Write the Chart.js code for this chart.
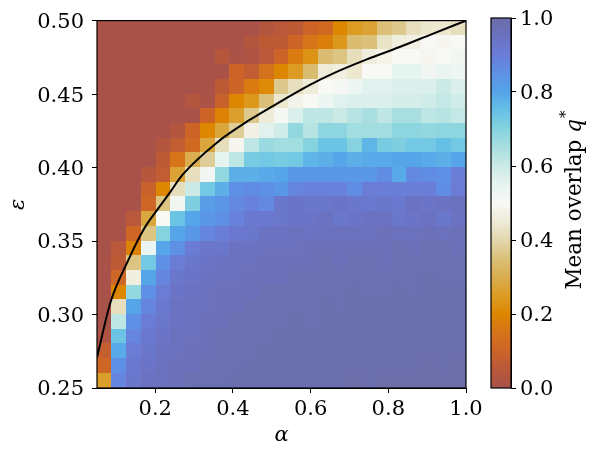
<!DOCTYPE html>
<html>
<head>
<meta charset="utf-8">
<script src="https://cdn.jsdelivr.net/npm/chart.js@4.4.1/dist/chart.umd.min.js"></script>
<style>
  html, body { margin: 0; padding: 0; background: #fff; }
  #wrap { position: relative; width: 599px; height: 457px; }
  #main { position: absolute; left: 0; top: 0; }
  #cbar { position: absolute; left: 480px; top: 0; }
</style>
</head>
<body>
<div id="wrap">
  <canvas id="main" width="599" height="457"></canvas>
  <canvas id="cbar" width="119" height="457"></canvas>
</div>
<script>
// grid edges of the heatmap cells
const alphaEdges = [0.05, 0.088, 0.126, 0.164, 0.202, 0.24, 0.278, 0.316, 0.354, 0.392, 0.43, 0.468, 0.506,
                    0.544, 0.582, 0.62, 0.658, 0.696, 0.734, 0.772, 0.81, 0.848, 0.886, 0.924, 0.962, 1.0];
const epsEdges = [0.25, 0.26, 0.27, 0.28, 0.29, 0.30, 0.31, 0.32, 0.33, 0.34, 0.35, 0.36, 0.37,
                  0.38, 0.39, 0.40, 0.41, 0.42, 0.43, 0.44, 0.45, 0.46, 0.47, 0.48, 0.49, 0.50];

// mean overlap q*, top row first (eps 0.49-0.50 down to 0.25-0.26), columns left to right in alpha
const overlapRows = [
  [0,0,0,0,0,0,0,0,0,0,0,0.03,0.05,0.06,0.10,0.12,0.20,0.25,0.27,0.35,0.37,0.42,0.44,0.44,0.42],
  [0,0,0,0,0,0,0,0,0,0,0.03,0.06,0.06,0.10,0.15,0.18,0.24,0.34,0.35,0.43,0.46,0.47,0.50,0.49,0.50],
  [0,0,0,0,0,0,0,0,0.04,0.01,0.02,0.05,0.10,0.17,0.23,0.34,0.36,0.42,0.46,0.48,0.50,0.50,0.49,0.50,0.52],
  [0,0,0,0,0,0,0,0,0,0.10,0.07,0.14,0.20,0.25,0.34,0.45,0.46,0.44,0.50,0.50,0.55,0.55,0.52,0.54,0.53],
  [0,0,0,0,0,0,0,0,0.06,0.10,0.17,0.21,0.37,0.42,0.45,0.50,0.51,0.53,0.56,0.56,0.57,0.57,0.57,0.60,0.57],
  [0,0,0,0,0,0,0.03,0.01,0.09,0.20,0.24,0.35,0.44,0.48,0.50,0.53,0.56,0.57,0.57,0.57,0.58,0.58,0.59,0.61,0.59],
  [0,0,0,0,0,0,0,0.10,0.19,0.26,0.37,0.45,0.51,0.57,0.62,0.62,0.60,0.63,0.65,0.62,0.65,0.65,0.62,0.63,0.61],
  [0,0,0,0,0,0.03,0.10,0.20,0.28,0.38,0.47,0.56,0.59,0.68,0.63,0.69,0.69,0.66,0.66,0.66,0.69,0.69,0.68,0.69,0.69],
  [0,0,0,0,0.03,0.07,0.12,0.28,0.42,0.49,0.62,0.67,0.66,0.66,0.70,0.74,0.74,0.70,0.77,0.72,0.71,0.73,0.73,0.75,0.73],
  [0,0,0,0,0.06,0.15,0.30,0.38,0.55,0.62,0.72,0.73,0.72,0.73,0.77,0.78,0.80,0.78,0.79,0.79,0.80,0.80,0.79,0.78,0.80],
  [0,0,0,0.04,0.07,0.27,0.42,0.52,0.68,0.78,0.78,0.79,0.80,0.83,0.83,0.83,0.83,0.83,0.83,0.86,0.79,0.87,0.86,0.85,0.90],
  [0,0,0,0.09,0.20,0.42,0.60,0.73,0.78,0.85,0.86,0.85,0.83,0.88,0.89,0.89,0.89,0.86,0.91,0.90,0.90,0.90,0.90,0.86,0.91],
  [0,0,0,0.11,0.36,0.52,0.71,0.82,0.84,0.87,0.89,0.87,0.93,0.94,0.93,0.93,0.94,0.93,0.92,0.93,0.92,0.95,0.94,0.95,0.96],
  [0,0,0.05,0.28,0.50,0.74,0.80,0.83,0.85,0.89,0.92,0.92,0.93,0.94,0.94,0.95,0.93,0.94,0.95,0.95,0.93,0.94,0.95,0.93,0.95],
  [0,0,0.11,0.36,0.70,0.80,0.83,0.88,0.90,0.92,0.93,0.95,0.95,0.96,0.95,0.96,0.96,0.96,0.96,0.97,0.96,0.96,0.97,0.96,0.97],
  [0,0.05,0.19,0.54,0.80,0.85,0.91,0.93,0.93,0.95,0.95,0.96,0.96,0.96,0.97,0.97,0.97,0.97,0.97,0.97,0.98,0.97,0.98,0.98,0.97],
  [0,0.06,0.36,0.73,0.85,0.91,0.93,0.94,0.95,0.96,0.96,0.97,0.97,0.97,0.97,0.98,0.97,0.98,0.98,0.97,0.98,0.98,0.98,0.98,0.98],
  [0,0.11,0.46,0.80,0.88,0.93,0.94,0.95,0.96,0.96,0.97,0.97,0.97,0.98,0.98,0.98,0.98,0.98,0.98,0.98,0.98,0.98,0.99,0.98,0.98],
  [0,0.20,0.68,0.85,0.91,0.94,0.95,0.96,0.97,0.97,0.97,0.98,0.98,0.98,0.98,0.98,0.98,0.99,0.98,0.98,0.99,0.98,0.99,0.99,0.99],
  [0,0.42,0.80,0.88,0.92,0.95,0.96,0.96,0.97,0.97,0.98,0.98,0.98,0.98,0.98,0.99,0.98,0.99,0.99,0.99,0.99,0.99,0.99,0.99,0.99],
  [0,0.62,0.85,0.91,0.93,0.95,0.96,0.97,0.97,0.98,0.98,0.98,0.98,0.99,0.98,0.99,0.99,0.99,0.99,0.99,0.99,0.99,0.99,0.99,0.99],
  [0.02,0.74,0.88,0.92,0.94,0.96,0.96,0.97,0.98,0.98,0.98,0.98,0.99,0.99,0.99,0.99,0.99,0.99,0.99,0.99,0.99,0.99,0.99,0.99,0.99],
  [0.08,0.79,0.91,0.93,0.95,0.96,0.97,0.97,0.98,0.98,0.98,0.99,0.99,0.99,0.99,0.99,0.99,0.99,0.99,0.99,0.99,0.99,0.99,0.99,0.99],
  [0.11,0.85,0.92,0.94,0.96,0.97,0.97,0.98,0.98,0.98,0.99,0.99,0.99,0.99,0.99,0.99,0.99,0.99,0.99,0.99,0.99,0.99,1.00,0.99,1.00],
  [0.26,0.88,0.93,0.95,0.96,0.97,0.98,0.98,0.98,0.99,0.99,0.99,0.99,0.99,0.99,0.99,0.99,1.00,0.99,1.00,1.00,1.00,1.00,1.00,1.00]
];

// black boundary curve
const boundaryAlpha = [0.05, 0.085, 0.13, 0.173, 0.203, 0.237, 0.271, 0.357, 0.443, 0.529, 0.597, 0.657, 0.743, 0.829, 0.914, 1.0];
const boundaryEps = [0.271, 0.3085, 0.3367, 0.3592, 0.3705, 0.3828, 0.3953, 0.4166, 0.4324, 0.4459, 0.4561, 0.4639, 0.4734, 0.482, 0.491, 0.5];

const alphaTicks = [0.2, 0.4, 0.6, 0.8, 1.0];
const epsTicks = [0.25, 0.30, 0.35, 0.40, 0.45, 0.50];
const cbarTicks = [0, 0.2, 0.4, 0.6, 0.8, 1.0];

// colormap stops
const cmapPos = [0, 0.05, 0.1, 0.15, 0.2, 0.25, 0.3, 0.35, 0.4, 0.45, 0.5, 0.55, 0.6, 0.65, 0.7, 0.75, 0.8, 0.85, 0.9, 0.95, 1.0];
const cmapHex = ['#a8524a', '#b9583a', '#cc6428', '#d6741a', '#dd8600', '#dc9c24', '#d9ad50', '#dac078', '#e2d6ac',
                 '#eeebd8', '#f8f8f5', '#e6f4f0', '#cbeae6', '#a9dfe0', '#86d3df', '#66c0e6', '#55a5e8', '#5e90e6',
                 '#6a7ed8', '#6b72c2', '#6b6ea8'];

const FONT = 'DejaVu Serif';

function hexRgb(h) {
    return [parseInt(h.slice(1, 3), 16), parseInt(h.slice(3, 5), 16), parseInt(h.slice(5, 7), 16)];
}

function overlapColor(q) {
    let k = 0;
    while (k < cmapPos.length - 2 && q > cmapPos[k + 1]) k++;
    const t = Math.min(1, Math.max(0, (q - cmapPos[k]) / (cmapPos[k + 1] - cmapPos[k])));
    const a = hexRgb(cmapHex[k]), b = hexRgb(cmapHex[k + 1]);
    const c = a.map((v, i) => Math.round(v + (b[i] - v) * t));
    return `rgb(${c[0]},${c[1]},${c[2]})`;
}

// paints the cells under the curve using the chart's own scales
const heatmapPlugin = {
    id: 'heatmap',
    beforeDatasetsDraw(chart) {
        const { ctx, chartArea, scales: { x, y } } = chart;
        ctx.save();
        ctx.beginPath();
        ctx.rect(chartArea.left, chartArea.top, chartArea.width, chartArea.height);
        ctx.clip();
        const n = overlapRows.length;
        overlapRows.forEach((row, r) => {
            const j = n - 1 - r;
            const yTop = Math.floor(y.getPixelForValue(epsEdges[j + 1]));
            const yBot = Math.ceil(y.getPixelForValue(epsEdges[j]));
            row.forEach((q, i) => {
                const xl = Math.floor(x.getPixelForValue(alphaEdges[i]));
                const xr = Math.ceil(x.getPixelForValue(alphaEdges[i + 1]));
                ctx.fillStyle = overlapColor(q);
                ctx.fillRect(xl, yTop, xr - xl, yBot - yTop);
            });
        });
        ctx.restore();
    }
};

const framePlugin = {
    id: 'frame',
    afterDraw(chart) {
        const { ctx, chartArea: a } = chart;
        ctx.save();
        ctx.strokeStyle = '#000';
        ctx.lineWidth = 1.2;
        ctx.strokeRect(a.left, a.top, a.right - a.left, a.bottom - a.top);
        ctx.restore();
    }
};

const tickFont = { family: FONT, size: 21 };
const labelFont = { family: FONT, size: 21, style: 'italic' };

new Chart(document.getElementById('main'), {
    type: 'scatter',
    data: {
        datasets: [{
            type: 'line',
            data: boundaryAlpha.map((a, i) => ({ x: a, y: boundaryEps[i] })),
            borderColor: '#000',
            borderWidth: 2,
            pointRadius: 0,
            fill: false,
            cubicInterpolationMode: 'monotone'
        }]
    },
    options: {
        responsive: false,
        animation: false,
        devicePixelRatio: 1,
        layout: { padding: { top: 18, right: 133, left: 0, bottom: 0 } },
        plugins: { legend: { display: false }, tooltip: { enabled: false } },
        scales: {
            x: {
                type: 'linear', min: 0.05, max: 1.0,
                afterBuildTicks: s => { s.ticks = alphaTicks.map(v => ({ value: v })); },
                afterFit: s => { s.height = 69; },
                ticks: { callback: v => v.toFixed(1), font: tickFont, color: '#000', padding: 4, maxRotation: 0, autoSkip: false },
                grid: { drawOnChartArea: false, color: '#000', tickLength: 5 },
                border: { color: '#000', width: 1 },
                title: { display: true, text: 'α', font: labelFont, color: '#000', padding: { top: 0, bottom: 9 } }
            },
            y: {
                type: 'linear', min: 0.25, max: 0.50,
                afterBuildTicks: s => { s.ticks = epsTicks.map(v => ({ value: v })); },
                afterFit: s => { s.width = 97; },
                ticks: { callback: v => v.toFixed(2), font: tickFont, color: '#000', padding: 8, labelOffset: 2, autoSkip: false },
                grid: { drawOnChartArea: false, color: '#000', tickLength: 5 },
                border: { color: '#000', width: 1 },
                title: { display: true, text: 'ε', font: labelFont, color: '#000', padding: { top: 6, bottom: 0 } }
            }
        }
    },
    plugins: [heatmapPlugin, framePlugin]
});

// colour bar: gradient drawn along its own y scale, label drawn rotated
const colorbarPlugin = {
    id: 'colorbar',
    beforeDatasetsDraw(chart) {
        const { ctx, chartArea: a, scales: { y } } = chart;
        const g = ctx.createLinearGradient(0, y.getPixelForValue(0), 0, y.getPixelForValue(1));
        cmapPos.forEach((p, i) => g.addColorStop(p, cmapHex[i]));
        ctx.save();
        ctx.fillStyle = g;
        ctx.fillRect(a.left, a.top, a.right - a.left, a.bottom - a.top);
        ctx.restore();
    },
    afterDraw(chart) {
        const { ctx, chartArea: a } = chart;
        ctx.save();
        ctx.strokeStyle = '#000';
        ctx.lineWidth = 1.2;
        ctx.strokeRect(a.left, a.top, a.right - a.left, a.bottom - a.top);

        // "Mean overlap q*"
        const plain = 'Mean overlap ', ital = 'q', star = '*';
        const fPlain = `21.5px "${FONT}"`, fItal = `italic 21.5px "${FONT}"`, fStar = `15px "${FONT}"`;
        ctx.font = fPlain; const w1 = ctx.measureText(plain).width;
        ctx.font = fItal; const w2 = ctx.measureText(ital).width;
        ctx.font = fStar; const w3 = ctx.measureText(star).width;
        const total = w1 + w2 + w3 + 1;
        ctx.translate(101, 200);
        ctx.rotate(-Math.PI / 2);
        ctx.fillStyle = '#000';
        ctx.textBaseline = 'alphabetic';
        ctx.textAlign = 'left';
        let x0 = -total / 2;
        ctx.font = fPlain; ctx.fillText(plain, x0, 0);
        ctx.font = fItal; ctx.fillText(ital, x0 + w1, 0);
        ctx.font = fStar; ctx.fillText(star, x0 + w1 + w2 + 1, -11);
        ctx.restore();
    }
};

new Chart(document.getElementById('cbar'), {
    type: 'scatter',
    data: { datasets: [{ data: [] }] },
    options: {
        responsive: false,
        animation: false,
        devicePixelRatio: 1,
        layout: { padding: { left: 11, top: 18, bottom: 69, right: 0 } },
        plugins: { legend: { display: false }, tooltip: { enabled: false } },
        scales: {
            x: { display: false, min: 0, max: 1 },
            y: {
                position: 'right', min: 0, max: 1,
                afterBuildTicks: s => { s.ticks = cbarTicks.map(v => ({ value: v })); },
                afterFit: s => { s.width = 88; },
                ticks: { callback: v => v.toFixed(1), font: tickFont, color: '#000', padding: 4, labelOffset: 2, autoSkip: false },
                grid: { drawOnChartArea: false, color: '#000', tickLength: 5 },
                border: { color: '#000', width: 1 }
            }
        }
    },
    plugins: [colorbarPlugin]
});
</script>
</body>
</html>
